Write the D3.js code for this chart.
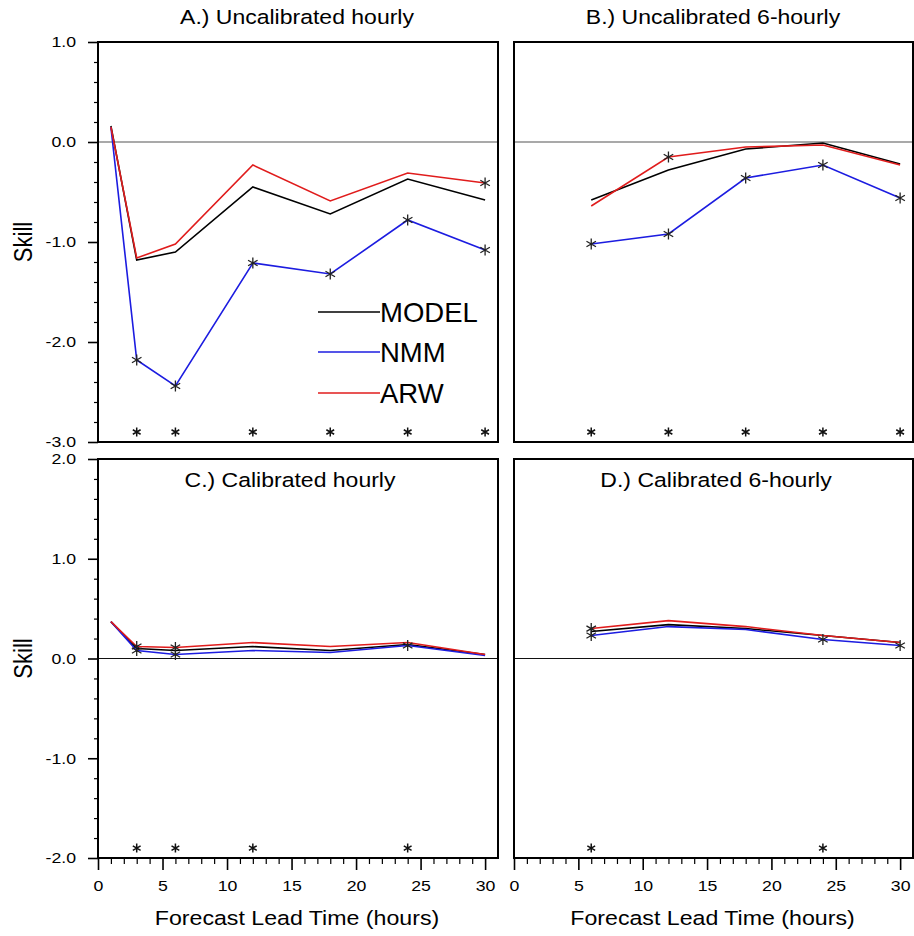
<!DOCTYPE html>
<html><head><meta charset="utf-8">
<script src="https://cdn.jsdelivr.net/npm/d3@7"></script>
<style>body{margin:0;background:#fff}svg{display:block;font-family:"Liberation Sans",Arial,Helvetica,sans-serif}</style>
</head><body><svg id="c" width="914" height="936"></svg>
<script>
// ---------- data ----------
const seriesNames = ["MODEL", "NMM", "ARW"];
const seriesColors = ["#000000", "#1c1ce0", "#e01c1c"];
const hoursHourly = [1, 3, 6, 12, 18, 24, 30];
const hours6 = [6, 12, 18, 24, 30];

// A.) Uncalibrated hourly
const aModel = [0.16, -1.18, -1.10, -0.45, -0.72, -0.37, -0.58];
const aNMM   = [0.15, -2.18, -2.44, -1.21, -1.32, -0.78, -1.08];
const aARW   = [0.15, -1.16, -1.02, -0.23, -0.59, -0.31, -0.41];
// B.) Uncalibrated 6-hourly
const bModel = [-0.58, -0.28, -0.07, -0.01, -0.22];
const bNMM   = [-1.02, -0.92, -0.36, -0.23, -0.56];
const bARW   = [-0.64, -0.15, -0.05, -0.03, -0.23];
// C.) Calibrated hourly
const cModel = [0.37, 0.10, 0.08, 0.12, 0.08, 0.14, 0.04];
const cNMM   = [0.37, 0.08, 0.04, 0.08, 0.06, 0.13, 0.03];
const cARW   = [0.37, 0.12, 0.11, 0.16, 0.12, 0.16, 0.04];
// D.) Calibrated 6-hourly
const dModel = [0.27, 0.34, 0.30, 0.23, 0.16];
const dNMM   = [0.23, 0.32, 0.29, 0.19, 0.13];
const dARW   = [0.30, 0.38, 0.32, 0.23, 0.16];

// hours with star markers drawn on a series line
const aNMMStars = [3, 6, 12, 18, 24, 30];
const aARWStars = [30];
const bNMMStars = [6, 12, 18, 24, 30];
const bARWStars = [12];
const cNMMStars = [3, 6, 24];
const cARWStars = [3, 6];
const dNMMStars = [6, 24, 30];
const dARWStars = [6];
// hours flagged along the bottom of each panel
const aSigHours = [3, 6, 12, 18, 24, 30];
const bSigHours = [6, 12, 18, 24, 30];
const cSigHours = [3, 6, 12, 24];
const dSigHours = [6, 24];

const titles = ["A.) Uncalibrated hourly", "B.) Uncalibrated 6-hourly", "C.) Calibrated hourly", "D.) Calibrated 6-hourly"];
const yTicksTop = [-3, -2, -1, 0, 1];
const yTicksBottom = [-2, -1, 0, 1, 2];
const xTicks = [0, 5, 10, 15, 20, 25, 30];
const xLabel = "Forecast Lead Time (hours)";
const yLabel = "Skill";

// ---------- layout ----------
const SX = 1.18; // horizontal text stretch seen in the reference
const svg = d3.select("#c");
const panels = [
  {x0: 98, x1: 498, y0: 42, y1: 442, ydom: [-3, 1], yt: yTicksTop, hours: hoursHourly, vals: [aModel, aNMM, aARW], stars: [[], aNMMStars, aARWStars], sig: aSigHours, sigY: -2.9, title: titles[0], titleOut: true, titleX: 297, yAxis: true, xAxis: false, legend: true},
  {x0: 514, x1: 913, y0: 42, y1: 442, ydom: [-3, 1], yt: yTicksTop, hours: hours6, vals: [bModel, bNMM, bARW], stars: [[], bNMMStars, bARWStars], sig: bSigHours, sigY: -2.9, title: titles[1], titleOut: true, titleX: 713, yAxis: false, xAxis: false},
  {x0: 98, x1: 498, y0: 459, y1: 858, ydom: [-2, 2], yt: yTicksBottom, hours: hoursHourly, vals: [cModel, cNMM, cARW], stars: [[], cNMMStars, cARWStars], sig: cSigHours, sigY: -1.9, title: titles[2], titleOut: false, titleX: 290, yAxis: true, xAxis: true},
  {x0: 514, x1: 913, y0: 459, y1: 858, ydom: [-2, 2], yt: yTicksBottom, hours: hours6, vals: [dModel, dNMM, dARW], stars: [[], dNMMStars, dARWStars], sig: dSigHours, sigY: -1.9, title: titles[3], titleOut: false, titleX: 716, yAxis: false, xAxis: true}
];

function starPath(r) {
  const p = [];
  for (let k = 0; k < 3; k++) {
    const a = Math.PI / 2 + k * Math.PI / 3;
    const dx = r * Math.cos(a), dy = r * Math.sin(a);
    p.push(`M${-dx},${-dy}L${dx},${dy}`);
  }
  return p.join("");
}
function stretchedText(g, x, y, txt, size, anchor, sx) {
  return g.append("text").attr("transform", `translate(${x},${y}) scale(${sx},1)`)
    .attr("text-anchor", anchor).attr("font-size", size).attr("fill", "#000").text(txt);
}

panels.forEach(P => {
  const g = svg.append("g");
  const x = d3.scaleLinear().domain([0, 31]).range([P.x0, P.x1]);
  const y = d3.scaleLinear().domain(P.ydom).range([P.y1, P.y0]);

  // zero line
  g.append("line").attr("x1", P.x0).attr("x2", P.x1).attr("y1", y(0)).attr("y2", y(0))
    .attr("stroke", P.xAxis ? "#111" : "#555").attr("stroke-width", 1.2);

  // y axis
  if (P.yAxis) {
    const minor = d3.range(P.ydom[0], P.ydom[1] + 1e-9, 0.2).filter(v => Math.abs(v - Math.round(v)) > 1e-6);
    const ax = d3.axisLeft(y).tickValues(minor).tickSize(4).tickFormat("");
    const gm = g.append("g").attr("transform", `translate(${P.x0},0)`).call(ax);
    gm.select(".domain").remove();
    gm.selectAll("line").attr("stroke", "#000").attr("stroke-width", 1.2);
    const axM = d3.axisLeft(y).tickValues(P.yt).tickSize(10).tickPadding(12).tickFormat(d => d.toFixed(1));
    const ga = g.append("g").attr("transform", `translate(${P.x0},0)`).call(axM);
    ga.select(".domain").remove();
    ga.selectAll("line").attr("stroke", "#000").attr("stroke-width", 1.6);
    ga.selectAll("text").attr("font-size", 15).attr("fill", "#000")
      .attr("font-family", "Liberation Sans, Arial, sans-serif")
      .attr("transform", `translate(-22,0) scale(${SX},1)`).attr("x", 0);
    g.append("text").attr("transform", `translate(32,${(P.y0 + P.y1) / 2}) rotate(-90) scale(1,1.2)`)
      .attr("text-anchor", "middle").attr("font-size", 22).text(yLabel);
  }
  // x axis
  if (P.xAxis) {
    const minor = d3.range(0, 31, 1).filter(v => v % 5 !== 0);
    const axm = d3.axisBottom(x).tickValues(minor).tickSize(6).tickFormat("");
    const gm = g.append("g").attr("transform", `translate(0,${P.y1})`).call(axm);
    gm.select(".domain").remove();
    gm.selectAll("line").attr("stroke", "#000").attr("stroke-width", 1.2);
    const axM = d3.axisBottom(x).tickValues(xTicks).tickSize(12).tickPadding(8).tickFormat(d3.format("d"));
    const ga = g.append("g").attr("transform", `translate(0,${P.y1})`).call(axM);
    ga.select(".domain").remove();
    ga.selectAll("line").attr("stroke", "#000").attr("stroke-width", 1.6);
    ga.selectAll("text").attr("font-size", 15).attr("fill", "#000")
      .attr("font-family", "Liberation Sans, Arial, sans-serif")
      .attr("transform", `translate(0,22) scale(${SX},1)`).attr("y", 0);
    stretchedText(g, (P.x0 + P.x1) / 2 - 1, 925, xLabel, 20.5, "middle", 1.13);
  }

  // series lines
  const line = d3.line().x(d => x(d[0])).y(d => y(d[1]));
  [0, 1, 2].forEach(i => {
    const pts = P.hours.map((h, j) => [h, P.vals[i][j]]);
    g.append("path").datum(pts).attr("d", line).attr("fill", "none")
      .attr("stroke", seriesColors[i]).attr("stroke-width", 1.6).attr("stroke-linejoin", "miter");
  });
  // stars on lines
  [0, 1, 2].forEach(i => {
    P.stars[i].forEach(h => {
      const j = P.hours.indexOf(h);
      g.append("path").attr("d", starPath(5.5)).attr("transform", `translate(${x(h)},${y(P.vals[i][j])})`)
        .attr("stroke", "#222").attr("stroke-width", 1.3).attr("fill", "none");
    });
  });
  // significance stars along bottom
  P.sig.forEach(h => {
    g.append("path").attr("d", starPath(4.5)).attr("transform", `translate(${x(h)},${y(P.sigY)})`)
      .attr("stroke", "#111").attr("stroke-width", 1.5).attr("fill", "none");
  });

  // frame
  g.append("rect").attr("x", P.x0).attr("y", P.y0).attr("width", P.x1 - P.x0).attr("height", P.y1 - P.y0)
    .attr("fill", "none").attr("stroke", "#000").attr("stroke-width", 2);

  // title
  stretchedText(g, P.titleX, P.titleOut ? 24 : P.y0 + 28, P.title, 19.5, "middle", SX);

  // legend
  if (P.legend) {
    const ly = [312, 352, 393];
    seriesNames.forEach((n, i) => {
      g.append("line").attr("x1", 318).attr("x2", 380).attr("y1", ly[i]).attr("y2", ly[i])
        .attr("stroke", seriesColors[i]).attr("stroke-width", 1.6);
      g.append("text").attr("x", 380).attr("y", ly[i] + 10).attr("font-size", 27.5).text(n);
    });
  }
});
</script></body></html>
